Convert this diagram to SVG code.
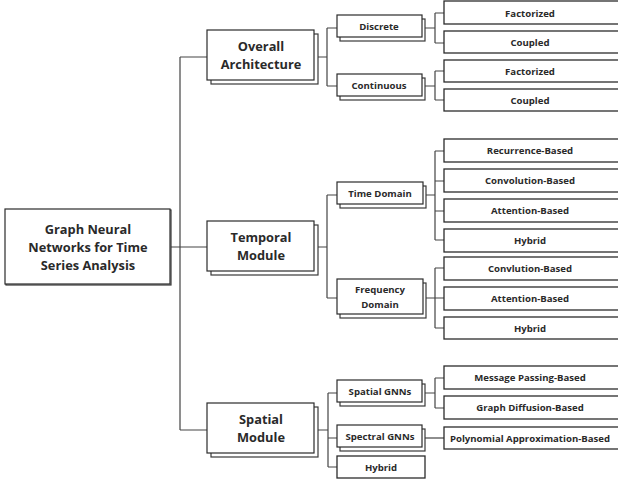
<svg xmlns="http://www.w3.org/2000/svg" width="618" height="483" viewBox="0 0 618 483">
<style>
.box{fill:#fff;stroke:#2b2b2b;stroke-width:1.2}
.sh{fill:#fff;stroke:#3a3a3a;stroke-width:1.2}
.leaf{fill:#fff;stroke:#2b2b2b;stroke-width:1.3}
.c{fill:none;stroke:#444;stroke-width:1.2}
text{font-family:"Open Sans",Lato,"Liberation Sans",sans-serif;font-weight:700;fill:#2a2a2a;text-anchor:middle;dominant-baseline:central}
.t1{font-size:12.8px}
.t2{font-size:9.6px}
.t3{font-size:9.6px}
</style>
<rect width="618" height="483" fill="#fff"/>
<g id="connectors" class="c">
<path d="M170 247H180M180 57V430M180 57H207M180 247H207M180 430H207"/>
<path d="M316 57H327M327 28V86M327 28H337M327 86H337"/>
<path d="M425 28H435M435 13V43M435 13H444M435 43H444"/>
<path d="M425 86H435M435 71V100M435 71H444M435 100H444"/>
<path d="M316 247H327M327 195V298M327 195H337M327 298H337"/>
<path d="M426 195H435M435 151V240M435 151H444M435 181H444M435 211H444M435 240H444"/>
<path d="M426 298H435M435 268V328M435 268H444M435 298H444M435 328H444"/>
<path d="M316 430H328M328 393V467M328 393H337M328 438H337M328 467H337"/>
<path d="M425 393H435M435 378V408M435 378H444M435 408H444"/>
<path d="M425 438H444"/>
</g>
<g id="root"><rect class="sh" x="6" y="210" width="165" height="75"/><rect class="box" x="5" y="209" width="165" height="75"/>
<text class="t1" x="88" y="229">Graph Neural</text><text class="t1" x="88" y="247">Networks for Time</text><text class="t1" x="88" y="265">Series Analysis</text></g>
<g id="overall"><rect class="sh" x="211" y="34" width="107" height="50"/><rect class="box" x="207" y="30" width="107" height="50"/>
<text class="t1" x="261" y="46">Overall</text><text class="t1" x="261" y="64">Architecture</text></g>
<g id="temporal"><rect class="sh" x="211" y="225" width="107" height="50"/><rect class="box" x="207" y="221" width="107" height="50"/>
<text class="t1" x="261" y="237">Temporal</text><text class="t1" x="261" y="255">Module</text></g>
<g id="spatial"><rect class="sh" x="211" y="407" width="107" height="50"/><rect class="box" x="207" y="403" width="107" height="50"/>
<text class="t1" x="261" y="419">Spatial</text><text class="t1" x="261" y="437">Module</text></g>
<g id="discrete"><rect class="sh" x="340" y="19" width="85" height="22"/><rect class="box" x="337" y="15" width="85" height="22"/><text class="t2" x="379" y="26">Discrete</text></g>
<g id="continuous"><rect class="sh" x="340" y="78" width="85" height="22"/><rect class="box" x="337" y="74" width="85" height="22"/><text class="t2" x="379" y="85">Continuous</text></g>
<g id="time-domain"><rect class="sh" x="340" y="186" width="86" height="22"/><rect class="box" x="337" y="182" width="86" height="22"/><text class="t2" x="380" y="193">Time Domain</text></g>
<g id="freq-domain"><rect class="sh" x="340" y="283" width="86" height="35"/><rect class="box" x="337" y="279" width="86" height="35"/><text class="t2" x="380" y="289">Frequency</text><text class="t2" x="380" y="304">Domain</text></g>
<g id="spatial-gnns"><rect class="sh" x="340" y="384" width="85" height="22"/><rect class="box" x="337" y="380" width="85" height="22"/><text class="t2" x="380" y="391">Spatial GNNs</text></g>
<g id="spectral-gnns"><rect class="sh" x="340" y="429" width="85" height="22"/><rect class="box" x="337" y="425" width="85" height="22"/><text class="t2" x="380" y="436">Spectral GNNs</text></g>
<g id="hybrid-s"><rect class="leaf" x="337" y="456" width="88" height="22"/><text class="t2" x="381" y="467">Hybrid</text></g>
<g id="f1"><rect class="leaf" x="444" y="1" width="180" height="23"/><text class="t3" x="530" y="13">Factorized</text></g>
<g id="c1"><rect class="leaf" x="444" y="31" width="180" height="22"/><text class="t3" x="530" y="42">Coupled</text></g>
<g id="f2"><rect class="leaf" x="444" y="60" width="180" height="22"/><text class="t3" x="530" y="71">Factorized</text></g>
<g id="c2"><rect class="leaf" x="444" y="89" width="180" height="22"/><text class="t3" x="530" y="100">Coupled</text></g>
<g id="rec"><rect class="leaf" x="444" y="139" width="180" height="23"/><text class="t3" x="530" y="150">Recurrence-Based</text></g>
<g id="conv"><rect class="leaf" x="444" y="169" width="180" height="23"/><text class="t3" x="530" y="180">Convolution-Based</text></g>
<g id="att"><rect class="leaf" x="444" y="199" width="180" height="23"/><text class="t3" x="530" y="210">Attention-Based</text></g>
<g id="hyb-t"><rect class="leaf" x="444" y="229" width="180" height="23"/><text class="t3" x="530" y="240">Hybrid</text></g>
<g id="fconv"><rect class="leaf" x="444" y="257" width="180" height="23"/><text class="t3" x="530" y="268">Convlution-Based</text></g>
<g id="fatt"><rect class="leaf" x="444" y="287" width="180" height="23"/><text class="t3" x="530" y="298">Attention-Based</text></g>
<g id="fhyb"><rect class="leaf" x="444" y="317" width="180" height="22"/><text class="t3" x="530" y="328">Hybrid</text></g>
<g id="mp"><rect class="leaf" x="444" y="366" width="180" height="23"/><text class="t3" x="530" y="377">Message Passing-Based</text></g>
<g id="gd"><rect class="leaf" x="444" y="396" width="180" height="23"/><text class="t3" x="530" y="407">Graph Diffusion-Based</text></g>
<g id="poly"><rect class="leaf" x="444" y="427" width="180" height="22"/><text class="t3" x="530" y="438">Polynomial Approximation-Based</text></g>
</svg>
